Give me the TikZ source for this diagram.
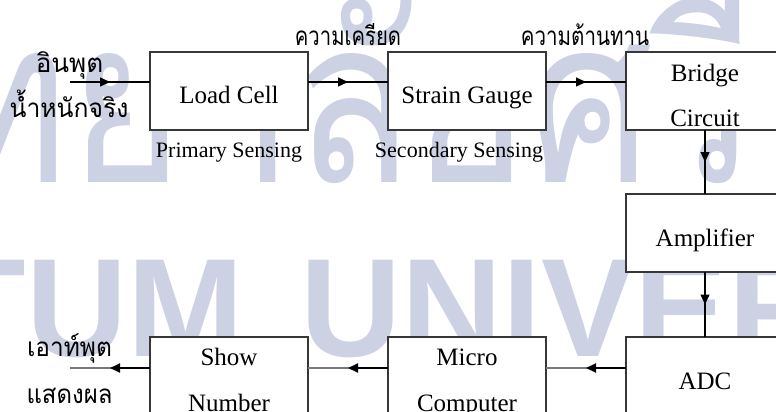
\documentclass[tikz,border=0pt]{standalone}
\usepackage{fontspec}
\setmainfont{Liberation Serif}
\newfontfamily\thaifont[Script=Thai]{Loma}
\newfontfamily\wmfont{Liberation Sans}
\usetikzlibrary{arrows.meta,decorations.markings,calc}
\definecolor{wmcol}{RGB}{205,209,228}
\definecolor{boxline}{RGB}{55,55,55}
\definecolor{greyline}{RGB}{120,120,120}
\newcommand{\thx}[2]{\scalebox{#1}[1]{#2}}
\tikzset{
  blk/.style={draw=boxline, fill=white, line width=1.3pt, minimum width=158pt, minimum height=78pt, anchor=north west, inner sep=0pt, outer sep=0pt},
  lbl/.style={font=\fontsize{25}{25}\selectfont, anchor=base, inner sep=0pt},
  sublbl/.style={font=\fontsize{22}{22}\selectfont, anchor=base, inner sep=0pt},
  th/.style={font=\thaifont\fontsize{26}{26}\selectfont, anchor=base, inner sep=0pt},
  wmlat/.style={font=\wmfont\bfseries\fontsize{140}{140}\selectfont, text=wmcol, inner sep=0pt},
  wmthai/.style={font=\thaifont\fontsize{230}{230}\selectfont, text=wmcol, inner sep=0pt},
  flow/.style={line width=1.3pt, postaction={decorate}, decoration={markings, mark=at position 0.5 with {\arrow{Triangle[length=10pt,width=9pt]}}}},
  backline/.style={draw=greyline, line width=1.6pt},
  frontarrow/.style={draw=black, line width=2pt, -{Triangle[length=10pt,width=9pt]}},
}
\begin{document}
\begin{tikzpicture}[x=1pt,y=-1pt]
\useasboundingbox (0,0) rectangle (776,412);
\clip (0,0) rectangle (776,412);
% watermark
\node[wmthai, anchor=base west] (wmth) at (-537,182) {\thx{0.85}{มหาวิทยาลัยศรีปทุม}};
\node[wmlat, anchor=base east] (wmla) at (244,356) {SRIPATUM};
\node[wmlat, anchor=base west] (wmlb) at (300,356) {UNIVERSITY};
% boxes
\node[blk] (load) at (150,52) {};
\node[blk] (strain) at (388,52) {};
\node[blk] (bridge) at (626,52) {};
\node[blk] (amp) at (626,194) {};
\node[blk] (adc) at (626,337) {};
\node[blk] (micro) at (388,337) {};
\node[blk] (show) at (150,337) {};
% box texts
\node[lbl] (tload) at ([yshift=-51pt]load.north) {Load Cell};
\node[lbl] (tstrain) at ([yshift=-51pt]strain.north) {Strain Gauge};
\node[lbl] (tbridge1) at ([yshift=-29.5pt]bridge.north) {Bridge};
\node[lbl] (tbridge2) at ([yshift=-74.5pt]bridge.north) {Circuit};
\node[lbl] (tamp) at ([yshift=-52.5pt]amp.north) {Amplifier};
\node[lbl] (tadc) at ([yshift=-52pt]adc.north) {ADC};
\node[lbl] (tmicro1) at ([yshift=-28pt]micro.north) {Micro};
\node[lbl] (tmicro2) at ([yshift=-74pt]micro.north) {Computer};
\node[lbl] (tshow1) at ([yshift=-28pt]show.north) {Show};
\node[lbl] (tshow2) at ([yshift=-74pt]show.north) {Number};
% sub labels
\node[sublbl] (prim) at (229,157) {Primary Sensing};
\node[sublbl] (sec) at (459,157) {Secondary Sensing};
% thai labels
\node[th] (in1) at (69.5,72) {อินพุต};
\node[th] (in2) at (69,117) {\thx{0.95}{น้ำหนักจริง}};
\node[th] (strainlbl) at (348,46) {\thx{0.78}{ความเครียด}};
\node[th] (reslbl) at (585,46) {\thx{0.79}{ความต้านทาน}};
\node[th] (out1) at (69.5,356) {\thx{0.94}{เอาท์พุต}};
\node[th] (out2) at (69.5,403) {\thx{0.92}{แสดงผล}};
% connectors
\coordinate (inpt) at (70,82);
\coordinate (outpt) at (70,368);
\draw[flow] (inpt) -- ([yshift=-30pt]load.north west);
\draw[flow] ([yshift=-30pt]load.north east) -- ([yshift=-30pt]strain.north west);
\draw[flow] ([yshift=-30pt]strain.north east) -- ([yshift=-30pt]bridge.north west);
\draw[flow] (bridge.south) -- (amp.north);
\draw[flow] (amp.south) -- (adc.north);
\draw[backline] ([yshift=-31pt]adc.north west) -- ([yshift=-31pt]micro.north east);
\draw[frontarrow] ([yshift=-31pt]adc.north west) -- ($([yshift=-31pt]adc.north west)!0.5!([yshift=-31pt]micro.north east)$);
\draw[backline] ([yshift=-31pt]micro.north west) -- ([yshift=-31pt]show.north east);
\draw[frontarrow] ([yshift=-31pt]micro.north west) -- ($([yshift=-31pt]micro.north west)!0.5!([yshift=-31pt]show.north east)$);
\draw[backline] ([yshift=-31pt]show.north west) -- (outpt);
\draw[frontarrow] ([yshift=-31pt]show.north west) -- ($([yshift=-31pt]show.north west)!0.5!(outpt)$);
\end{tikzpicture}
\end{document}
